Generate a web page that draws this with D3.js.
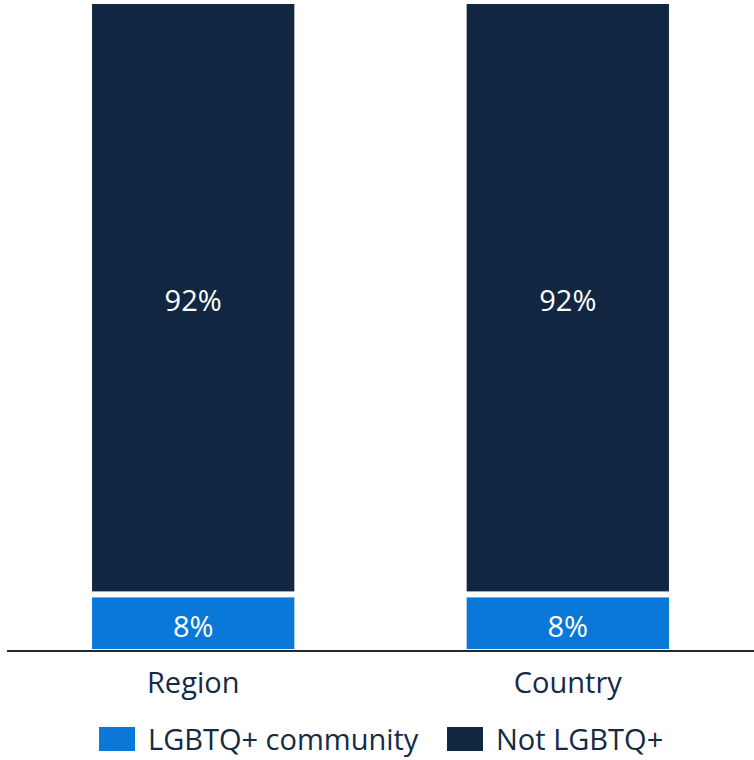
<!DOCTYPE html>
<html>
<head>
<meta charset="utf-8">
<script src="https://cdn.jsdelivr.net/npm/d3@7"></script>
<style>
  html, body { margin: 0; padding: 0; background: #ffffff; }
  svg { display: block; font-family: "Open Sans", "Noto Sans", sans-serif; }
</style>
</head>
<body>
<svg id="chart" width="754" height="760"></svg>
<script>
// Share of respondents, in percent
const categories = ["Region", "Country"];
const seriesNames = ["LGBTQ+ community", "Not LGBTQ+"];
const lgbtqValues = [8, 8];
const notLgbtqValues = [92, 92];
const seriesColors = ["#0a78d8", "#112640"];

const rows = categories.map((c, i) => ({
  category: c,
  "LGBTQ+ community": lgbtqValues[i],
  "Not LGBTQ+": notLgbtqValues[i]
}));

const svg = d3.select("#chart");
const baseY = 649, topY = 4;
const gap = 6;

const x = d3.scaleBand()
  .domain(categories)
  .range([7, 754])
  .paddingInner(0.46)
  .paddingOuter(0.227);

const y = d3.scaleLinear().domain([0, 100]).range([baseY, topY]);

const stack = d3.stack().keys(seriesNames);
const layers = stack(rows);

const color = d3.scaleOrdinal().domain(seriesNames).range(seriesColors);

const g = svg.append("g");

layers.forEach((layer, li) => {
  const lg = g.append("g");
  lg.selectAll("rect")
    .data(layer)
    .join("rect")
    .attr("x", d => x(d.data.category))
    .attr("width", x.bandwidth())
    .attr("y", d => y(d[1]))
    .attr("height", d => y(d[0]) - y(d[1]) - (li > 0 ? gap : 0))
    .attr("fill", color(layer.key));

  lg.selectAll("text")
    .data(layer)
    .join("text")
    .attr("x", d => x(d.data.category) + x.bandwidth() / 2)
    .attr("y", d => (y(d[0]) + y(d[1]) - (li > 0 ? gap : 0)) / 2)
    .attr("dy", "0.47em")
    .attr("text-anchor", "middle")
    .attr("fill", "#ffffff")
    .attr("font-size", 29)
    .text(d => (d[1] - d[0]) + "%");
});

// baseline axis
const xAxis = d3.axisBottom(x).tickSize(0).tickPadding(21);
const ax = svg.append("g")
  .attr("transform", `translate(0,${baseY + 2})`)
  .call(xAxis);
ax.select(".domain").attr("stroke", "#1e2a3a").attr("stroke-width", 2.2)
  .attr("d", "M7,0H754");
ax.selectAll(".tick text")
  .attr("font-size", 29)
  .attr("fill", "#142a45")
  .attr("font-family", "Open Sans, Noto Sans, sans-serif");

// legend
const legend = svg.append("g");
const items = [
  { key: seriesNames[0], x: 99, tx: 148 },
  { key: seriesNames[1], x: 447, tx: 496 }
];
items.forEach(it => {
  legend.append("rect")
    .attr("x", it.x).attr("y", 727)
    .attr("width", 36).attr("height", 24)
    .attr("fill", color(it.key));
  legend.append("text")
    .attr("x", it.tx).attr("y", 750)
    .attr("font-size", 29)
    .attr("fill", "#142a45")
    .text(it.key);
});
</script>
</body>
</html>
